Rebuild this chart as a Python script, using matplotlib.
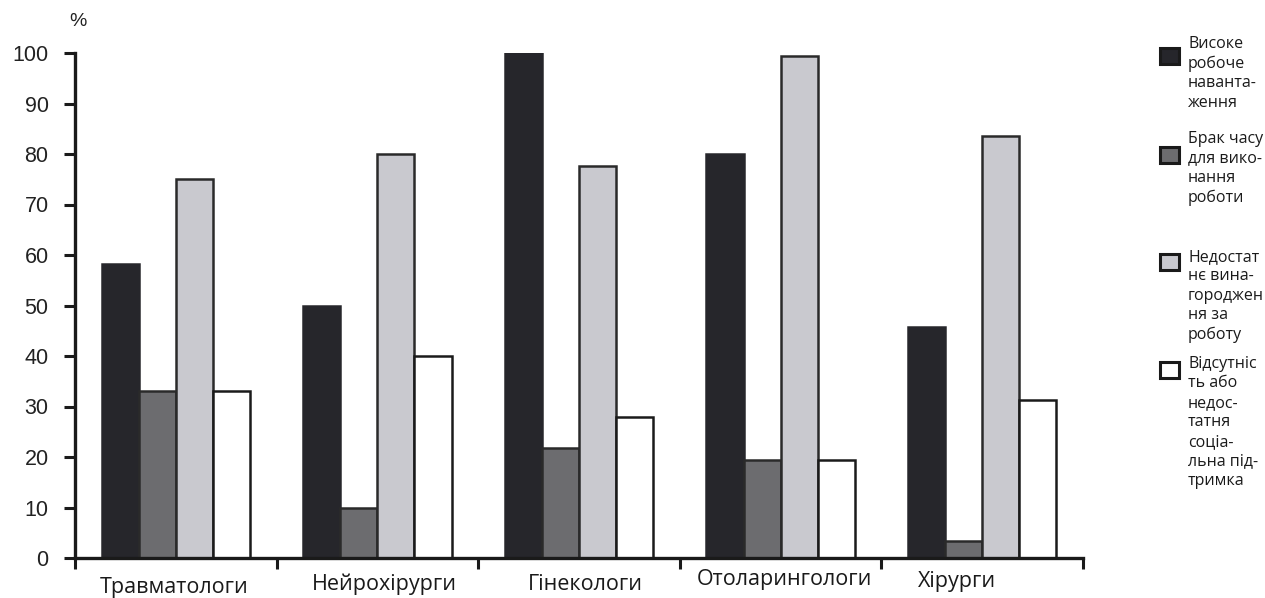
import matplotlib
matplotlib.use("Agg")
import matplotlib.pyplot as plt
from matplotlib.patches import Rectangle
import numpy as np

categories = ["Травматологи", "Нейрохірурги", "Гінекологи", "Отоларингологи", "Хірурги"]
high_workload = [58.2, 50, 100, 80, 45.7]
lack_of_time = [33, 10, 21.8, 19.5, 3.4]
insufficient_pay = [75, 80, 77.6, 99.5, 83.5]
lack_support = [33, 40, 27.9, 19.5, 31.3]
yticks = [0, 10, 20, 30, 40, 50, 60, 70, 80, 90, 100]

legend_labels = [
    "Високе\nробоче\nнаванта-\nження",
    "Брак часу\nдля вико-\nнання\nроботи",
    "Недостат\nнє вина-\nгороджен\nня за\nроботу",
    "Відсутніс\nть або\nнедос-\nтатня\nсоціа-\nльна під-\nтримка",
]

W, H = 1265, 598
fig = plt.figure(figsize=(W / 100, H / 100), dpi=100)
ax_l, ax_r, ax_b, ax_t = 75, 1083, 558, 53
ax = fig.add_axes([ax_l / W, 1 - ax_b / H, (ax_r - ax_l) / W, (ax_b - ax_t) / H])

series = [high_workload, lack_of_time, insufficient_pay, lack_support]
colors = ["#26262b", "#6c6c6f", "#c9c9cf", "#ffffff"]
edges = ["#26262b", "#2a2a2a", "#2a2a2a", "#1a1a1a"]
bw = 0.184
x = np.arange(len(categories)) + 0.5
for i, (vals, c, e) in enumerate(zip(series, colors, edges)):
    ax.bar(x + (i - 1.5) * bw, vals, width=bw, color=c, edgecolor=e, linewidth=1.8, zorder=2)

ax.set_xlim(0, len(categories))
ax.set_ylim(0, 100)
ax.set_yticks(yticks)
ax.set_yticklabels([str(v) for v in yticks], fontsize=15.5, family="Liberation Sans", color="#222222")
ax.set_xticks(np.arange(len(categories) + 1))
ax.set_xticklabels([])
ax.tick_params(axis="y", direction="out", length=8, width=2.2, pad=11, color="#1a1a1a")
ax.tick_params(axis="x", direction="out", length=8, width=2.2, color="#1a1a1a")
for s in ["top", "right"]:
    ax.spines[s].set_visible(False)
for s in ["left", "bottom"]:
    ax.spines[s].set_linewidth(2.4)
    ax.spines[s].set_color("#1a1a1a")

# category labels (irregularly placed as in the original)
label_px = [(174, 587), (384, 584), (585, 584), (784, 580), (957, 581)]
for cat, (px, py) in zip(categories, label_px):
    fig.text(px / W, 1 - py / H, cat, ha="center", va="center", fontsize=15.5,
             family="Open Sans", color="#1a1a1a")

fig.text(78 / W, 1 - 22 / H, "%", ha="center", va="center", fontsize=14,
         family="Liberation Sans", color="#222222")

# manual legend
text_tops = [36, 131, 249, 356]
square_centers = [56, 155, 262, 370]
for lab, c, ty, sc in zip(legend_labels, colors, text_tops, square_centers):
    sw, sh = 19, 16
    fig.add_artist(Rectangle((1160 / W, 1 - (sc + sh / 2) / H), sw / W, sh / H,
                             transform=fig.transFigure, facecolor=c, edgecolor="#1a1a1a",
                             linewidth=2.2))
    fig.text(1188 / W, 1 - ty / H, lab, ha="left", va="top", fontsize=11.5,
             family="Open Sans", color="#1a1a1a", linespacing=1.29)

fig.savefig("out.png", dpi=100)
